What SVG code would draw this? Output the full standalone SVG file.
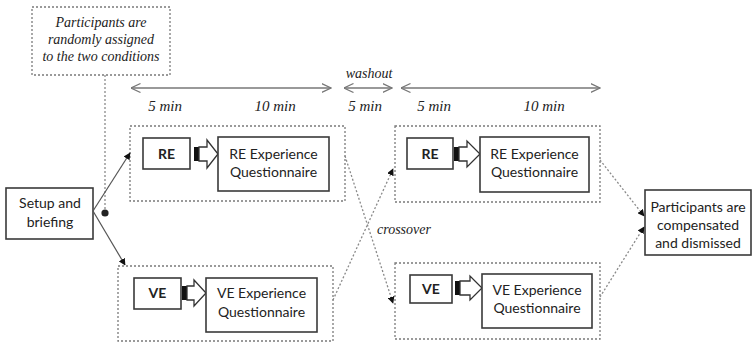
<svg xmlns="http://www.w3.org/2000/svg" width="752" height="343" viewBox="0 0 752 343">
<defs>
<style>
.box{fill:#fff;stroke:#3a3a3a;stroke-width:1.6}
.dash{fill:none;stroke:#7a7a7a;stroke-width:1.3;stroke-dasharray:2 2}
.dot{fill:none;stroke:#8a8a8a;stroke-width:1.3;stroke-dasharray:2 2}
.solid{fill:none;stroke:#555;stroke-width:1.2}
.dbl{fill:none;stroke:#777;stroke-width:1.3}
.sans{font-family:Lato,"Liberation Sans",Arial,sans-serif;font-size:14px;fill:#222;text-anchor:middle}
.bold{font-weight:bold}
.ser{font-family:"Liberation Serif","Times New Roman",serif;font-style:italic;font-size:14px;fill:#222;text-anchor:middle}
.min{font-size:15px}
.blk{fill:#fff;stroke:#333;stroke-width:1.3}
</style>
<marker id="ah" viewBox="0 0 10 10" refX="9" refY="5" markerWidth="7" markerHeight="7" markerUnits="userSpaceOnUse" orient="auto"><path d="M0,0 L10,5 L0,10 Z" fill="#111"/></marker>
<marker id="open" viewBox="0 0 10 10" refX="9.5" refY="5" markerWidth="10" markerHeight="10" markerUnits="userSpaceOnUse" orient="auto-start-reverse"><path d="M0,0.5 L9.5,5 L0,9.5" fill="none" stroke="#777" stroke-width="1.2"/></marker>
</defs>

<g id="note">
<rect class="dash" x="32" y="7" width="138" height="68"/>
<text class="ser" x="101" y="27">Participants are</text>
<text class="ser" x="101" y="44">randomly assigned</text>
<text class="ser" x="101" y="61">to the two conditions</text>
</g>

<g id="timeline">
<line class="dbl" x1="131" y1="88" x2="331" y2="88" marker-start="url(#open)" marker-end="url(#open)"/>
<line class="dbl" x1="344" y1="88" x2="392" y2="88" marker-start="url(#open)" marker-end="url(#open)"/>
<line class="dbl" x1="401" y1="88" x2="600" y2="88" marker-start="url(#open)" marker-end="url(#open)"/>
<text class="ser" x="369" y="78">washout</text>
<text class="ser min" x="165" y="111">5 min</text>
<text class="ser min" x="275" y="111">10 min</text>
<text class="ser min" x="365" y="111">5 min</text>
<text class="ser min" x="434" y="111">5 min</text>
<text class="ser min" x="544" y="111">10 min</text>
<text class="ser" x="404" y="234">crossover</text>
</g>

<g id="setup">
<rect class="box" x="6" y="188" width="87" height="51"/>
<text class="sans" x="50" y="208">Setup and</text>
<text class="sans" x="50" y="227">briefing</text>
</g>

<g id="phase1-re">
<rect class="dash" x="130" y="126" width="215" height="75"/>
<rect class="box" x="143" y="138" width="47" height="31"/>
<text class="sans bold" x="166.5" y="159">RE</text>
<rect x="194" y="147" width="5" height="14" fill="#111"/>
<polygon class="blk" points="199,147 207,147 207,140 218,154 207,168 207,161 199,161"/>
<rect class="box" x="218" y="137" width="111" height="54"/>
<text class="sans" x="273.5" y="159">RE Experience</text>
<text class="sans" x="273.5" y="177">Questionnaire</text>
</g>

<g id="phase1-ve">
<rect class="dash" x="118" y="266" width="215" height="75"/>
<rect class="box" x="134" y="278" width="47" height="31"/>
<text class="sans bold" x="157.5" y="298">VE</text>
<rect x="182" y="286" width="5" height="14" fill="#111"/>
<polygon class="blk" points="187,286 194,286 194,280 206,293 194,306 194,300 187,300"/>
<rect class="box" x="206" y="278" width="111" height="54"/>
<text class="sans" x="261.5" y="298">VE Experience</text>
<text class="sans" x="261.5" y="317">Questionnaire</text>
</g>

<g id="phase2-re">
<rect class="dash" x="395" y="126" width="205" height="76"/>
<rect class="box" x="407" y="138" width="46" height="31"/>
<text class="sans bold" x="430" y="159">RE</text>
<rect x="454" y="147" width="5" height="14" fill="#111"/>
<polygon class="blk" points="459,147 467,147 467,141 480,154 467,167 467,161 459,161"/>
<rect class="box" x="480" y="137" width="109" height="55"/>
<text class="sans" x="534.5" y="159">RE Experience</text>
<text class="sans" x="534.5" y="177">Questionnaire</text>
</g>

<g id="phase2-ve">
<rect class="dash" x="395" y="263" width="205" height="76"/>
<rect class="box" x="410" y="275" width="42" height="28"/>
<text class="sans bold" x="431" y="294">VE</text>
<rect x="455" y="281" width="5" height="14" fill="#111"/>
<polygon class="blk" points="460,281 470,281 470,276 482,288 470,300 470,295 460,295"/>
<rect class="box" x="482" y="274" width="110" height="54"/>
<text class="sans" x="537" y="295">VE Experience</text>
<text class="sans" x="537" y="313">Questionnaire</text>
</g>

<g id="end">
<rect class="box" x="645" y="190" width="106" height="65"/>
<text class="sans" x="698" y="212">Participants are</text>
<text class="sans" x="698" y="230">compensated</text>
<text class="sans" x="698" y="248">and dismissed</text>
</g>

<g id="connectors">
<line class="dot" x1="105" y1="75" x2="105" y2="212"/>
<circle cx="105" cy="213" r="3.6" fill="#222"/>
<line class="solid" x1="93" y1="211" x2="130" y2="153" marker-end="url(#ah)"/>
<line class="solid" x1="93" y1="211" x2="125" y2="265" marker-end="url(#ah)"/>
<line class="dot" x1="345" y1="156" x2="393" y2="303" marker-end="url(#ah)"/>
<line class="dot" x1="333" y1="300" x2="393" y2="169" marker-end="url(#ah)"/>
<line class="dot" x1="600" y1="160" x2="644" y2="216" marker-end="url(#ah)"/>
<line class="dot" x1="600" y1="297" x2="644" y2="227" marker-end="url(#ah)"/>
</g>
</svg>
